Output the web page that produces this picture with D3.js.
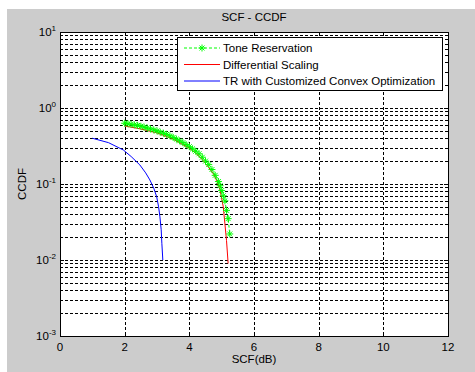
<!DOCTYPE html>
<html>
<head>
<meta charset="utf-8">
<script src="https://cdn.jsdelivr.net/npm/d3@7"></script>
<style>
  body { margin: 0; background: #fff; }
  svg text { font-family: "Liberation Sans", Arial, sans-serif; fill: #000; }
</style>
</head>
<body>
<div id="viz-container"></div>
<script>
const width = 475, height = 372;

// Tone Reservation (green, dashed with stars)
const trX = [2.0, 2.1, 2.2, 2.3, 2.4, 2.5, 2.6, 2.7, 2.8, 2.9, 3.0, 3.1, 3.2, 3.3, 3.4, 3.5, 3.6, 3.7, 3.8, 3.9,
  4.0, 4.1, 4.2, 4.3, 4.4, 4.5, 4.6, 4.7, 4.8, 4.9, 4.95, 5.0, 5.05, 5.1, 5.15, 5.2, 5.25];
const trY = [0.63, 0.62, 0.61, 0.6, 0.59, 0.575, 0.56, 0.545, 0.53, 0.515, 0.5, 0.48, 0.465, 0.45, 0.43, 0.41, 0.39, 0.37, 0.35, 0.33,
  0.31, 0.29, 0.27, 0.25, 0.225, 0.2, 0.18, 0.155, 0.13, 0.108, 0.095, 0.082, 0.07, 0.06, 0.045, 0.035, 0.022];

// Differential Scaling (red)
const dsX = [2.0, 2.5, 3.0, 3.5, 4.0, 4.2, 4.4, 4.6, 4.75, 4.85, 4.95, 5.05, 5.1, 5.15, 5.2];
const dsY = [0.58, 0.53, 0.47, 0.39, 0.295, 0.255, 0.21, 0.165, 0.135, 0.11, 0.083, 0.05, 0.03, 0.018, 0.009];

// TR with Customized Convex Optimization (blue)
const ccX = [1.0, 1.5, 1.96, 2.2, 2.47, 2.65, 2.78, 2.9, 2.99, 3.05, 3.09, 3.13, 3.15, 3.18];
const ccY = [0.4, 0.35, 0.28, 0.23, 0.178, 0.14, 0.113, 0.088, 0.068, 0.05, 0.037, 0.025, 0.0166, 0.01];

const xTicks = [0, 2, 4, 6, 8, 10, 12];
const yExps = [-3, -2, -1, 0, 1];
const legendNames = ["Tone Reservation", "Differential Scaling", "TR with Customized Convex Optimization"];
const legendColors = ["#00ff00", "#ff0000", "#0000ff"];

const margin = {left: 60, right: 27, top: 32, bottom: 36};

const svg = d3.select("#viz-container").append("svg")
  .attr("width", width).attr("height", height);

// fond gris de la figure
svg.append("rect").attr("x", 7).attr("y", 9).attr("width", width - 7).attr("height", height - 9).attr("fill", "#cccccc");

const x = d3.scaleLinear().domain([0, 12]).range([margin.left, width - margin.right]);
const y = d3.scaleLog().domain([1e-3, 10]).range([height - margin.bottom, margin.top]);

svg.append("rect")
  .attr("x", x(0)).attr("y", y(10))
  .attr("width", x(12) - x(0)).attr("height", y(1e-3) - y(10))
  .attr("fill", "#fff");

// grille
const grid = svg.append("g");
const minorY = [];
yExps.slice(0, -1).forEach(e => { for (let k = 2; k <= 9; k++) minorY.push(k * Math.pow(10, e)); });
const majorY = yExps.slice(1, -1).map(e => Math.pow(10, e));
grid.selectAll(".gy").data(minorY.concat(majorY)).join("line")
  .attr("x1", x(0)).attr("x2", x(12))
  .attr("y1", d => Math.round(y(d)) + 0.5).attr("y2", d => Math.round(y(d)) + 0.5)
  .attr("stroke", "#000").attr("stroke-width", 1).attr("stroke-dasharray", "3,2");
grid.selectAll(".gx").data(xTicks.slice(1, -1)).join("line")
  .attr("x1", d => Math.round(x(d)) + 0.5).attr("x2", d => Math.round(x(d)) + 0.5)
  .attr("y1", y(10)).attr("y2", y(1e-3))
  .attr("stroke", "#000").attr("stroke-width", 1).attr("stroke-dasharray", "3,2");

// courbes
const line = d3.line().x(d => x(d[0])).y(d => y(d[1]));
svg.append("path").datum(ccX.map((v, i) => [v, ccY[i]]))
  .attr("d", line).attr("fill", "none").attr("stroke", "#0000ff").attr("stroke-width", 1);
svg.append("path").datum(dsX.map((v, i) => [v, dsY[i]]))
  .attr("d", line).attr("fill", "none").attr("stroke", "#ff0000").attr("stroke-width", 1);
const trData = trX.map((v, i) => [v, trY[i]]);
svg.append("path").datum(trData)
  .attr("d", line).attr("fill", "none").attr("stroke", "#00ff00").attr("stroke-width", 1).attr("stroke-dasharray", "3,2");

function star(g, cx, cy, r) {
  g.append("path")
    .attr("d", `M${cx - r},${cy}H${cx + r}M${cx},${cy - r}V${cy + r}` +
      `M${cx - r * 0.7},${cy - r * 0.7}L${cx + r * 0.7},${cy + r * 0.7}M${cx - r * 0.7},${cy + r * 0.7}L${cx + r * 0.7},${cy - r * 0.7}`)
    .attr("stroke", "#00ff00").attr("stroke-width", 1).attr("fill", "none");
}
const markers = svg.append("g");
trData.forEach(d => star(markers, x(d[0]), y(d[1]), 3.5));

// cadre et graduations
const frame = svg.append("g");
frame.append("rect")
  .attr("x", x(0) + 0.5).attr("y", y(10) + 0.5)
  .attr("width", x(12) - x(0)).attr("height", y(1e-3) - y(10))
  .attr("fill", "none").attr("stroke", "#000");

xTicks.forEach(t => {
  const xp = Math.round(x(t)) + 0.5;
  frame.append("line").attr("x1", xp).attr("x2", xp).attr("y1", y(1e-3)).attr("y2", y(1e-3) - 4).attr("stroke", "#000");
  frame.append("line").attr("x1", xp).attr("x2", xp).attr("y1", y(10)).attr("y2", y(10) + 4).attr("stroke", "#000");
  frame.append("text").attr("x", x(t)).attr("y", y(1e-3) + 15)
    .attr("text-anchor", "middle").attr("font-size", 11.5).text(t);
});
minorY.concat(yExps.map(e => Math.pow(10, e))).forEach(v => {
  const yp = Math.round(y(v)) + 0.5;
  const len = Number.isInteger(Math.log10(v)) ? 4 : 2;
  frame.append("line").attr("x1", x(0)).attr("x2", x(0) + len).attr("y1", yp).attr("y2", yp).attr("stroke", "#000");
  frame.append("line").attr("x1", x(12)).attr("x2", x(12) - len).attr("y1", yp).attr("y2", yp).attr("stroke", "#000");
});
yExps.forEach(e => {
  const t = frame.append("text").attr("x", x(0) - 4).attr("y", y(Math.pow(10, e)) + 4)
    .attr("text-anchor", "end").attr("font-size", 11.5);
  t.append("tspan").text("10");
  t.append("tspan").attr("dy", -5).attr("font-size", 8).text(e);
});

// titres
svg.append("text").attr("x", (x(0) + x(12)) / 2).attr("y", 21)
  .attr("text-anchor", "middle").attr("font-size", 11.5).text("SCF - CCDF");
svg.append("text").attr("x", (x(0) + x(12)) / 2).attr("y", 363)
  .attr("text-anchor", "middle").attr("font-size", 11.5).text("SCF(dB)");
svg.append("text").attr("transform", `translate(26,${(y(10) + y(1e-3)) / 2}) rotate(-90)`)
  .attr("text-anchor", "middle").attr("font-size", 11.5).text("CCDF");

// légende
const legend = svg.append("g").attr("transform", "translate(177,37)");
legend.append("rect").attr("x", 0.5).attr("y", 0.5).attr("width", 265).attr("height", 53)
  .attr("fill", "#fff").attr("stroke", "#000");
legendNames.forEach((name, i) => {
  const g = legend.append("g").attr("transform", `translate(0,${11 + i * 16.5})`);
  g.append("line").attr("x1", 7).attr("x2", 43).attr("y1", 0).attr("y2", 0)
    .attr("stroke", legendColors[i]).attr("stroke-dasharray", i === 0 ? "3,2" : null);
  if (i === 0) star(g, 25, 0, 3.5);
  g.append("text").attr("x", 46).attr("y", 4).attr("font-size", 11.5).text(name);
});
</script>
</body>
</html>
